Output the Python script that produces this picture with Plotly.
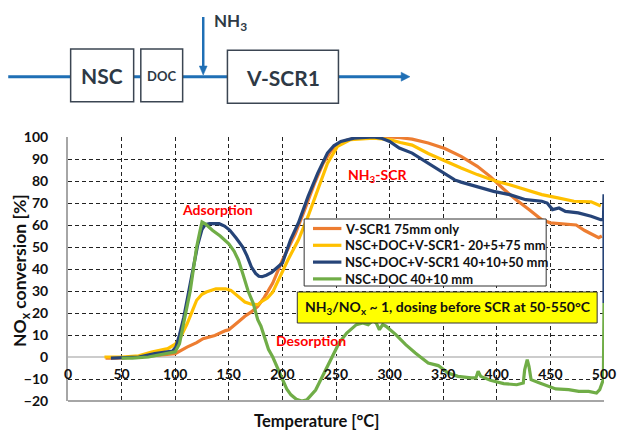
import plotly.graph_objects as go

# ---- measured NOx conversion vs. catalyst inlet temperature ----
temp_vscr = [35, 45, 66, 80, 100, 111, 120, 126, 137, 147, 150, 159, 165, 171, 177, 183, 191, 200, 206, 212,
             220, 230, 238, 245, 252, 260, 270, 280, 300, 310, 321, 336, 351.5, 366.7, 381.8, 394, 406, 418,
             430, 442, 450, 462, 474, 482, 489, 495, 498]
conv_vscr = [-0.5, -0.5, 0, 0.5, 1.5, 4.5, 6.5, 8.3, 9.8, 12, 12.4, 16, 18.5, 20.5, 23, 27, 33.6, 44, 50, 56,
             66, 79, 88, 93.5, 96.5, 98.5, 99.7, 100, 100, 99.7, 99, 97.3, 94.8, 91.2, 86.7, 82, 76.5, 71.5,
             67, 62.4, 61, 60.5, 60, 57.5, 55.5, 54.2, 55]

temp_20575 = [34, 50, 66, 78, 93, 100, 105, 111, 116, 120, 125, 129, 138, 147, 152, 156, 160, 165, 171, 177,
              180, 186, 191, 195, 205, 215, 224, 233, 242, 251.5, 263.6, 285, 300, 310, 321, 336, 351.5, 366.7,
              381.8, 400, 412, 427, 442, 457, 472, 488, 497]
conv_20575 = [0, 0, 0.5, 2.3, 3.8, 5.8, 9, 15, 21, 25.8, 28.5, 29.5, 31, 31, 30.3, 28.8, 27, 25, 24, 23.8,
              25, 26.8, 29.5, 33.6, 44, 53.3, 64, 76, 88, 95.8, 98.8, 99.5, 98.8, 97.5, 96.3, 92.5, 89, 85.9,
              82.9, 79.8, 78.3, 76, 73.8, 72.3, 70.8, 70.5, 68.6]

temp_401050 = [40, 50, 66, 81, 90, 97.6, 100.6, 104, 108, 112, 117, 121, 125, 128, 132, 137, 141, 146, 151, 157,
               163, 167, 171, 175, 178, 181, 185, 190, 195, 200, 207.6, 215, 224, 233, 242, 248, 254.5, 266.7,
               285, 292, 300, 309, 321, 336, 351.5, 360.7, 366.7, 376, 388, 397, 412, 427, 442, 447, 452, 458,
               464, 476, 488, 497, 499.5, 500, 500]
conv_401050 = [-0.5, -0.3, 0, 1.5, 2.3, 2.7, 4.5, 10, 18, 28, 41, 51, 58, 60.2, 60.6, 60.6, 60.6, 59.5, 57.6, 54,
               50, 46, 41, 38, 36.7, 36.5, 37.2, 38.5, 40.5, 42.7, 53.3, 61, 73, 83.6, 92.7, 96, 98, 99.5,
               100, 99.5, 98, 95, 92.7, 88.2, 83.6, 80.5, 79.5, 78.3, 76.8, 75.3, 73.8, 71.5, 70.8, 70, 67, 67.7,
               66.2, 65.5, 64, 62.4, 62.4, 74, 24.5]

temp_nscdoc = [50, 60, 75, 90, 100, 104, 108, 111, 114, 117, 120, 123, 125, 128, 135, 142, 150, 155, 159, 163,
               168, 172.7, 177, 180, 183, 187, 191, 195, 199, 204, 208, 213, 218, 223, 231, 237, 244, 249,
               253, 260, 269, 275, 280, 284.5, 287.5, 290.5, 293.6, 296.6, 305.8, 315, 324, 336, 345.4, 354.6,
               363.7, 376, 380.5, 382.6, 385, 394, 406.4, 418.6, 424.7, 426, 428.4, 430, 432, 440, 449, 455,
               467, 476.5, 485.7, 493, 496, 499.4, 500]
conv_nscdoc = [-0.5, -0.5, 0, 1.5, 2.3, 6, 15, 22, 30, 40, 50, 57, 61.4, 60.5, 57.5, 55, 51.5, 48, 44, 38,
               30, 24.5, 17, 14, 9.5, 3.5, 0, -4.5, -9.5, -14.5, -17.2, -19.2, -20, -19.4, -15, -9, -2, 2.5,
               6.5, 10.9, 14.7, 15.5, 14.7, 16.7, 15.5, 12.4, 14.7, 14, 10.2, 5.6, 1.8, -2.7, -3.9, -7.3,
               -8.8, -9.5, -9.5, -6.5, -8.8, -10.6, -12.1, -12.6, -11.8, -5.8, -1.2, -4.2, -10.3, -11.8, -13.3, -14.5,
               -14.8, -15.6, -15.6, -16.4, -14.8, -10.3, 24.5]

series_names = ["V-SCR1 75mm only",
                "NSC+DOC+V-SCR1- 20+5+75 mm",
                "NSC+DOC+V-SCR1 40+10+50 mm",
                "NSC+DOC 40+10 mm"]
series_temps = [temp_vscr, temp_20575, temp_401050, temp_nscdoc]
series_convs = [conv_vscr, conv_20575, conv_401050, conv_nscdoc]
series_colors = ["#ed7d31", "#ffc000", "#264478", "#70ad47"]

x_ticks = list(range(0, 501, 50))
y_ticks = list(range(-20, 101, 10))

FONT = "Lato"
INK = "#111111"

# plot-area frame in pixels (figure is 628 x 431)
L, R, T, B = 68, 615, 137, 401
W, H = R - L, B - T


def px(p):
    return (p - L) / W


def py(p):
    return (B - p) / H


def label(x, y, text, size, color=INK, xanchor="center", angle=0):
    return dict(xref="paper", yref="paper", x=x, y=y, text=text, showarrow=False,
                xanchor=xanchor, yanchor="middle", textangle=angle,
                font=dict(family=FONT, size=size, weight="bold", color=color))


fig = go.Figure()
for name, xs, ys, col in zip(series_names, series_temps, series_convs, series_colors):
    fig.add_trace(go.Scatter(x=xs, y=ys, mode="lines", name=name, showlegend=False,
                             line=dict(color=col, width=3.2)))

grid = dict(showgrid=True, gridcolor="#222222", gridwidth=1, griddash="4px,3px")
tickfont = dict(family=FONT, size=14, weight="bold", color=INK)

fig.update_layout(
    width=628, height=431,
    margin=dict(l=L, r=628 - R, t=T, b=431 - B),
    paper_bgcolor="white", plot_bgcolor="white",
    font=dict(family=FONT, color=INK),
    xaxis=dict(range=[0, 500], tickvals=x_ticks, anchor="free", position=20 / 120,
               showline=False, zeroline=False, ticks="", ticklabelstandoff=7,
               tickfont=tickfont, **grid),
    yaxis=dict(range=[-20, 100], tickvals=y_ticks, showline=True, linecolor="#a6a6a6", linewidth=2,
               zeroline=True, zerolinecolor="#cccccc", zerolinewidth=2, ticks="", ticklabelstandoff=15,
               tickfont=tickfont, **grid),
    showlegend=False,
)

shapes = []
annotations = []

# bottom frame line of the plot area
shapes.append(dict(type="line", xref="paper", yref="paper", x0=0, x1=1, y0=0, y1=0,
                   line=dict(color="#a6a6a6", width=2)))

# legend box with one entry per series
leg_x0, leg_x1, leg_y0, leg_y1 = 309, 556, 219, 286
shapes.append(dict(type="rect", xref="paper", yref="paper", x0=px(leg_x0), x1=px(leg_x1),
                   y0=py(leg_y1), y1=py(leg_y0), fillcolor="white", line=dict(color="#333333", width=1)))
for i, (name, col) in enumerate(zip(series_names, series_colors)):
    row_y = 228.5 + 16.8 * i
    shapes.append(dict(type="line", xref="paper", yref="paper", x0=px(318), x1=px(347),
                       y0=py(row_y), y1=py(row_y), line=dict(color=col, width=3.2)))
    annotations.append(label(px(349), py(row_y), name, 13, xanchor="left"))

# yellow note box
shapes.append(dict(type="rect", xref="paper", yref="paper", x0=px(302), x1=px(608), y0=py(323), y1=py(292),
                   fillcolor="#ffff00", line=dict(color="#333333", width=1)))
annotations.append(label(px(456), py(307.5),
                         "NH<sub>3</sub>/NO<sub>x</sub> ~ 1, dosing before SCR at 50-550°C", 14))

# red process labels on the curves
for txt, xv, yv in [("Adsorption", 139, 67), ("NH<sub>3</sub>-SCR", 289, 82.4), ("Desorption", 227, 7.4)]:
    annotations.append(dict(x=xv, y=yv, xref="x", yref="y", text=txt, showarrow=False,
                            xanchor="center", yanchor="middle",
                            font=dict(family=FONT, size=14, weight="bold", color="#ff0000")))

# axis titles
annotations.append(label(px(322), py(421), "Temperature [°C]", 16.5))
annotations.append(label(px(20), py(270), "NO<sub>x</sub> conversion [%]", 17.5, angle=-90))

# ---- exhaust line layout sketch above the chart ----
BLUE = "#1f6fb5"
BOX = "#3b4552"
TXT = "#2e3945"
line_y = 76.7
shapes.append(dict(type="line", xref="paper", yref="paper", x0=px(7), x1=px(410), y0=py(line_y), y1=py(line_y),
                   line=dict(color=BLUE, width=3)))
shapes.append(dict(type="path", xref="paper", yref="paper",
                   path=f"M {px(417)} {py(line_y)} L {px(408)} {py(line_y - 4.5)} L {px(408)} {py(line_y + 4.5)} Z",
                   fillcolor=BLUE, line=dict(color=BLUE, width=0.5)))
# dosing arrow
shapes.append(dict(type="line", xref="paper", yref="paper", x0=px(206), x1=px(206), y0=py(17), y1=py(68),
                   line=dict(color=BLUE, width=2.5)))
shapes.append(dict(type="path", xref="paper", yref="paper",
                   path=f"M {px(206)} {py(75)} L {px(202)} {py(66)} L {px(210)} {py(66)} Z",
                   fillcolor=BLUE, line=dict(color=BLUE, width=0.5)))

boxes = [("NSC", 70.7, 135, 49, 101.7, 21),
         ("DOC", 142.3, 185, 49, 101.7, 13),
         ("V-SCR1", 230.7, 344, 50.3, 103.3, 21)]
for text, bx0, bx1, by0, by1, fs in boxes:
    shapes.append(dict(type="rect", xref="paper", yref="paper", x0=px(bx0), x1=px(bx1), y0=py(by1), y1=py(by0),
                       fillcolor="white", line=dict(color=BOX, width=1.5)))
    annotations.append(label(px((bx0 + bx1) / 2), py((by0 + by1) / 2 + 0.5), text, fs, color=TXT))
annotations.append(label(px(215), py(22), "NH<sub>3</sub>", 17, color=TXT, xanchor="left"))

fig.update_layout(shapes=shapes, annotations=annotations)

fig.write_html("out.html")
